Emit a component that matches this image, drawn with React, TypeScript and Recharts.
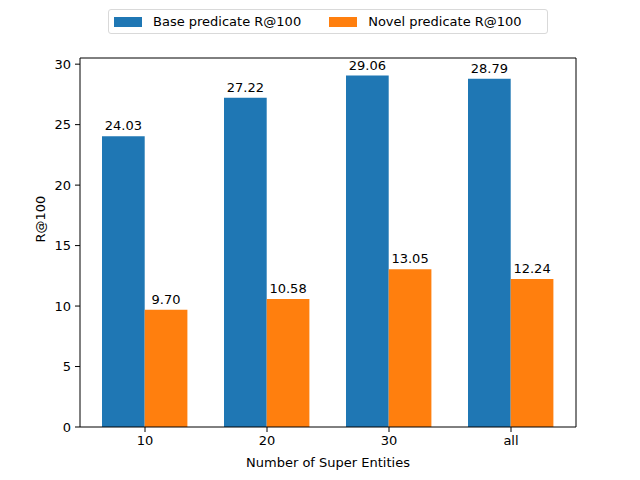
import React from 'react';
import { Bar, BarChart, LabelList, XAxis, YAxis } from 'recharts';

const categories = ['10', '20', '30', 'all'];
const baseRecall = [24.03, 27.22, 29.06, 28.79];
const novelRecall = [9.7, 10.58, 13.05, 12.24];
const yTicks = [0, 5, 10, 15, 20, 25, 30];

const BLUE = '#1f77b4';
const ORANGE = '#ff7f0e';
const FONT = '"DejaVu Sans", sans-serif';

const rows = categories.map((c, i) => ({ cat: c, base: baseRecall[i], novel: novelRecall[i] }));

function TopLegend() {
  const item = (color: string, text: string, first: boolean) => (
    <span style={{ display: 'flex', alignItems: 'center', marginLeft: first ? 0 : 28 }}>
      <span style={{ width: 28, height: 10, background: color, display: 'inline-block', marginRight: 11 }} />
      {text}
    </span>
  );
  return (
    <div style={{
      position: 'absolute', left: 108, top: 9, width: 440, height: 25, boxSizing: 'border-box',
      display: 'flex', alignItems: 'center',
      border: '1px solid #d9d9d9', borderRadius: 3, padding: '0 5px',
      fontSize: 13, fontFamily: FONT, color: '#000', background: '#fff', whiteSpace: 'nowrap',
    }}>
      {item(BLUE, 'Base predicate R@100', true)}
      {item(ORANGE, 'Novel predicate R@100', false)}
    </div>
  );
}

const fmt = (v: number) => v.toFixed(2);

export default function App() {
  const tickStyle = { fontSize: 13, fill: '#000', fontFamily: FONT };
  return (
    <div style={{ position: 'absolute', left: 0, top: 0, width: 640, height: 480, background: '#fff' }}>
      <BarChart
        width={640}
        height={480}
        data={rows}
        margin={{ top: 57, right: 63, bottom: 23, left: 20 }}
        barGap={0}
        style={{ fontFamily: FONT }}
      >
        <XAxis
          dataKey="cat"
          padding={{ left: 4, right: 4 }}
          tick={tickStyle}
          tickSize={5}
          tickMargin={4}
          tickLine={{ stroke: '#000' }}
          axisLine={{ stroke: '#000' }}
          label={{ value: 'Number of Super Entities', position: 'insideBottom', offset: -10, fontSize: 13, fill: '#000', fontFamily: FONT }}
        />
        <XAxis xAxisId="top" orientation="top" dataKey="cat" tick={false} tickLine={false} axisLine={{ stroke: '#000' }} height={1} />
        <YAxis
          domain={[0, 30.51]}
          ticks={yTicks}
          width={60}
          tick={tickStyle}
          tickSize={5}
          tickMargin={4}
          tickLine={{ stroke: '#000' }}
          axisLine={{ stroke: '#000' }}
          allowDataOverflow
          label={{ value: 'R@100', angle: -90, position: 'insideLeft', offset: 20, fontSize: 13, fill: '#000', fontFamily: FONT }}
        />
        <YAxis yAxisId="right" orientation="right" domain={[0, 30.51]} tick={false} tickLine={false} axisLine={{ stroke: '#000' }} width={1} />
        <Bar dataKey="base" fill={BLUE} barSize={42.7} isAnimationActive={false}>
          <LabelList dataKey="base" position="top" offset={6} formatter={fmt} style={{ fontSize: 13, fill: '#000', fontFamily: FONT }} />
        </Bar>
        <Bar dataKey="novel" fill={ORANGE} barSize={42.7} isAnimationActive={false}>
          <LabelList dataKey="novel" position="top" offset={6} formatter={fmt} style={{ fontSize: 13, fill: '#000', fontFamily: FONT }} />
        </Bar>
      </BarChart>
      <TopLegend />
    </div>
  );
}
